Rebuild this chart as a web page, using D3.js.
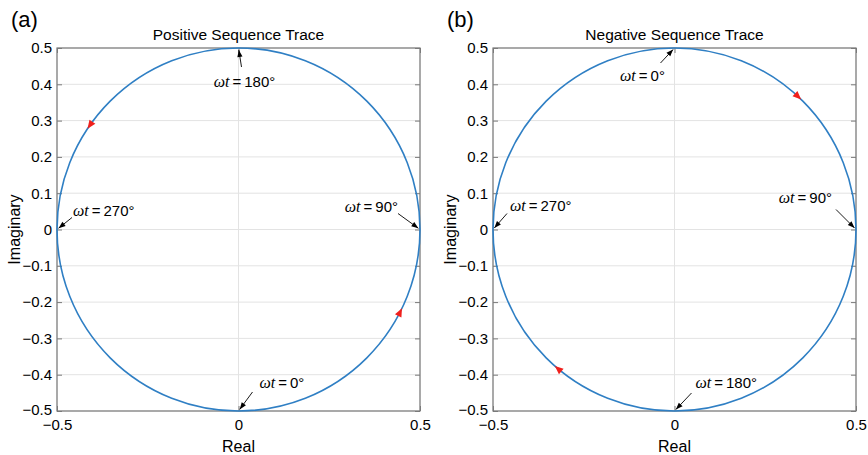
<!DOCTYPE html>
<html>
<head>
<meta charset="utf-8">
<script src="https://cdn.jsdelivr.net/npm/d3@7"></script>
<style>
  html, body { margin: 0; padding: 0; background: #fff; }
  svg { display: block; font-family: "Liberation Sans", Arial, Helvetica, sans-serif; }
</style>
</head>
<body>
<svg id="chart" width="868" height="455"></svg>
<script>
// Phasor traces of the positive and negative sequence components
const panelLabels = ["(a)", "(b)"];
const panelTitles = ["Positive Sequence Trace", "Negative Sequence Trace"];
const rotation = [1, -1];           // +1: counter-clockwise, -1: clockwise
const amplitude = 0.5;              // phasor magnitude
const xTicks = [-0.5, 0, 0.5];
const yTicks = [0.5, 0.4, 0.3, 0.2, 0.1, 0, -0.1, -0.2, -0.3, -0.4, -0.5];
const markerAngles = [0, 90, 180, 270];      // ωt values that are annotated
const directionAnglesPos = [63, 235];        // ωt where the direction arrows sit
const directionAnglesNeg = [43, 220];

const svg = d3.select("#chart");
const fmt = v => (v < 0 ? "\u2212" : "") + (v === 0 ? "0" : d3.format(".1f")(Math.abs(v)));

// Layout
const frames = [
  { left: 57, right: 420, top: 48, bottom: 411 },
  { left: 493, right: 856, top: 48, bottom: 411 }
];
// Annotation placement relative to the marked point: arrow tail and text anchor
const annLayout = [
  {
    0:   { tail: [14, -19], text: [21, -23], anchor: "start" },
    90:  { tail: [-22, -16], text: [-22, -18], anchor: "end" },
    180: { tail: [3, 19], text: [6, 39], anchor: "middle" },
    270: { tail: [15, -12], text: [16, -14], anchor: "start" }
  },
  {
    0:   { tail: [-14, 15], text: [-32, 33], anchor: "middle" },
    90:  { tail: [-20, -20], text: [-24, -27], anchor: "end" },
    180: { tail: [17, -18], text: [21, -23], anchor: "start" },
    270: { tail: [14, -16], text: [17, -19], anchor: "start" }
  }
];

const GRID = "#e3e3e3", BOX = "#7a7a7a", TRACE = "#2f7fc4", RED = "#f0201c";

// position of the phasor at angle ωt (degrees) for a given rotation sense
function phasor(wt, dir) {
  const a = (dir > 0 ? wt - 90 : 90 - wt) * Math.PI / 180;
  return [amplitude * Math.cos(a), amplitude * Math.sin(a), a];
}

function arrowHead(g, tip, from, len, halfW, color) {
  const dx = tip[0] - from[0], dy = tip[1] - from[1];
  const L = Math.hypot(dx, dy); const ux = dx / L, uy = dy / L;
  const bx = tip[0] - ux * len, by = tip[1] - uy * len;
  g.append("path")
    .attr("d", `M${tip[0]},${tip[1]}L${bx - uy * halfW},${by + ux * halfW}L${bx + uy * halfW},${by - ux * halfW}Z`)
    .attr("fill", color);
}

panelLabels.forEach((label, i) => {
  const f = frames[i];
  const dir = rotation[i];
  const x = d3.scaleLinear().domain([-0.5, 0.5]).range([f.left, f.right]);
  const y = d3.scaleLinear().domain([-0.5, 0.5]).range([f.bottom, f.top]);
  const g = svg.append("g");

  // gridlines
  g.selectAll(".gy").data(yTicks).join("line")
    .attr("x1", f.left).attr("x2", f.right)
    .attr("y1", d => y(d)).attr("y2", d => y(d))
    .attr("stroke", GRID).attr("stroke-width", 1);
  g.selectAll(".gx").data(xTicks).join("line")
    .attr("x1", d => x(d)).attr("x2", d => x(d))
    .attr("y1", f.top).attr("y2", f.bottom)
    .attr("stroke", GRID).attr("stroke-width", 1);

  // axes (inward ticks on all four sides)
  const axL = g.append("g").attr("transform", `translate(${f.left},0)`)
    .call(d3.axisLeft(y).tickValues(yTicks).tickFormat(fmt).tickSizeInner(-5).tickSizeOuter(0).tickPadding(5));
  const axR = g.append("g").attr("transform", `translate(${f.right},0)`)
    .call(d3.axisRight(y).tickValues(yTicks).tickFormat("").tickSizeInner(-5).tickSizeOuter(0));
  const axB = g.append("g").attr("transform", `translate(0,${f.bottom})`)
    .call(d3.axisBottom(x).tickValues(xTicks).tickFormat(fmt).tickSizeInner(-5).tickSizeOuter(0).tickPadding(8));
  const axT = g.append("g").attr("transform", `translate(0,${f.top})`)
    .call(d3.axisTop(x).tickValues(xTicks).tickFormat("").tickSizeInner(-5).tickSizeOuter(0));
  [axL, axR, axB, axT].forEach(a => {
    a.select(".domain").remove();
    a.selectAll("line").attr("stroke", BOX);
    a.selectAll("text").attr("fill", "#000").style("font-size", "15px")
      .style("font-family", "'Liberation Sans', Arial, sans-serif");
  });
  // lowest y label sits a touch higher so it clears the x labels
  axL.selectAll(".tick").filter(d => d === -0.5).select("text").attr("dy", "0.2em");

  // frame
  g.append("rect").attr("x", f.left).attr("y", f.top)
    .attr("width", f.right - f.left).attr("height", f.bottom - f.top)
    .attr("fill", "none").attr("stroke", BOX).attr("stroke-width", 1.2);

  // trace
  g.append("ellipse")
    .attr("cx", x(0)).attr("cy", y(0))
    .attr("rx", x(amplitude) - x(0)).attr("ry", y(0) - y(amplitude))
    .attr("fill", "none").attr("stroke", TRACE).attr("stroke-width", 1.6);

  // direction arrows
  const dirAngles = dir > 0 ? directionAnglesPos : directionAnglesNeg;
  dirAngles.forEach(wt => {
    const [px, py, a] = phasor(wt, dir);
    const tx = -Math.sin(a) * dir, ty = Math.cos(a) * dir;      // tangent in data space
    const P = [x(px), y(py)];
    const T = [tx, -ty];                                        // screen space
    const tip = [P[0] + T[0] * 4, P[1] + T[1] * 4];
    const tail = [P[0] - T[0] * 4, P[1] - T[1] * 4];
    arrowHead(g, tip, tail, 8.5, 3.6, RED);
  });

  // ωt annotations
  markerAngles.forEach(wt => {
    const [px, py] = phasor(wt, dir);
    const P = [x(px), y(py)];
    const L = annLayout[i][wt];
    const tail = [P[0] + L.tail[0], P[1] + L.tail[1]];
    const d = Math.hypot(L.tail[0], L.tail[1]);
    const tip = [P[0] + L.tail[0] / d * 2, P[1] + L.tail[1] / d * 2];
    g.append("line").attr("x1", tail[0]).attr("y1", tail[1])
      .attr("x2", tip[0]).attr("y2", tip[1])
      .attr("stroke", "#000").attr("stroke-width", 0.9);
    arrowHead(g, tip, tail, 7, 2.6, "#000");
    const t = g.append("text")
      .attr("x", P[0] + L.text[0]).attr("y", P[1] + L.text[1])
      .attr("text-anchor", L.anchor).style("font-size", "15px");
    t.append("tspan").style("font-family", "'Liberation Serif', 'Times New Roman', serif")
      .style("font-style", "italic").style("font-size", "16px").text("\u03c9t");
    t.append("tspan").text("\u2009=\u2009" + wt + "\u00b0");
  });

  // titles and axis labels
  g.append("text").attr("x", (f.left + f.right) / 2).attr("y", 40)
    .attr("text-anchor", "middle").style("font-size", "15.5px").text(panelTitles[i]);
  g.append("text").attr("x", (f.left + f.right) / 2).attr("y", 452)
    .attr("text-anchor", "middle").style("font-size", "16px").text("Real");
  g.append("text")
    .attr("transform", `translate(${f.left - 37},${(f.top + f.bottom) / 2}) rotate(-90)`)
    .attr("text-anchor", "middle").style("font-size", "16px").text("Imaginary");
  g.append("text").attr("x", f.left - 46).attr("y", 27)
    .style("font-size", "22px").text(label);
});
</script>
</body>
</html>
